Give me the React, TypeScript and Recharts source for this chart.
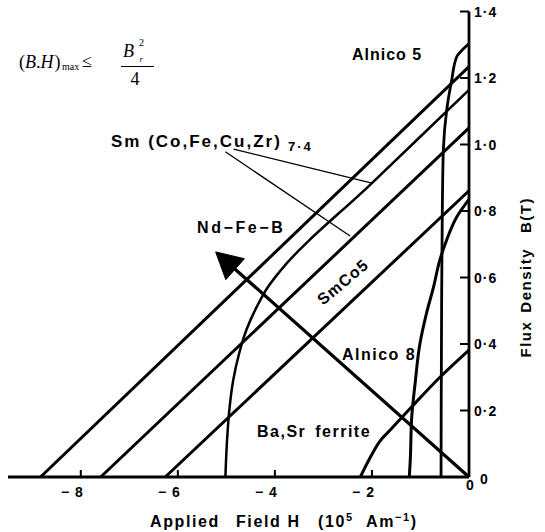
import React from 'react';
import { LineChart, Line, XAxis, YAxis } from 'recharts';

// Applied field H (10^5 A/m) against flux density B (T) for each magnet
const H_TICKS = [-8, -6, -4, -2, 0];
const B_TICKS = [0, 0.2, 0.4, 0.6, 0.8, 1.0, 1.2, 1.4];

const ndFeBH = [-8.83, 0];
const ndFeBB = [0, 1.234];

// Sm(Co,Fe,Cu,Zr)7.4, grade with a knee
const smCoKneeH = [-5.02, -4.99, -4.94, -4.86, -4.74, -4.58, -4.38, -4.15, -3.9, -2.0, 0];
const smCoKneeB = [0, 0.1, 0.2, 0.29, 0.37, 0.445, 0.51, 0.57, 0.618, 0.884, 1.164];

// Sm(Co,Fe,Cu,Zr)7.4, straight grade
const smCoLineH = [-7.59, 0];
const smCoLineB = [0, 1.05];

const smCo5H = [-6.26, 0];
const smCo5B = [0, 0.861];

const alnico5H = [-0.576, -0.565, -0.55, -0.529, -0.459, -0.356, -0.253, -0.12, 0];
const alnico5B = [0, 0.5, 0.8, 0.983, 1.104, 1.194, 1.264, 1.287, 1.304];

const alnico8H = [-1.23, -1.21, -1.18, -1.11, -1.01, -0.88, -0.73, -0.6, -0.46, -0.25, 0];
const alnico8B = [0, 0.051, 0.181, 0.282, 0.402, 0.49, 0.572, 0.653, 0.713, 0.783, 0.835];

const ferriteH = [-2.24, -2.05, -1.85, -1.6, -1.2, -0.6, 0];
const ferriteB = [0, 0.055, 0.105, 0.145, 0.208, 0.3, 0.382];

// improvement arrow and the two pointers from the Sm(Co,Fe,Cu,Zr) label
const arrowH = [0, -5.19];
const arrowB = [0, 0.673];
const leaderUpperH = [-4.85, -2.0];
const leaderUpperB = [0.986, 0.884];
const leaderLowerH = [-5.02, -2.45];
const leaderLowerB = [0.978, 0.725];

const INK = '#000';
const SANS = "'Liberation Sans', Arial, Helvetica, sans-serif";
const SERIF = "'Liberation Serif', 'Times New Roman', serif";

const toPoints = (hs: number[], bs: number[]) => hs.map((h, i) => ({ H: h, B: bs[i] }));

const series = [
  { id: 'ndFeB', data: toPoints(ndFeBH, ndFeBB), type: 'linear', width: 3 },
  { id: 'smCoKnee', data: toPoints(smCoKneeH, smCoKneeB), type: 'monotoneY', width: 2.5 },
  { id: 'smCoLine', data: toPoints(smCoLineH, smCoLineB), type: 'linear', width: 3 },
  { id: 'smCo5', data: toPoints(smCo5H, smCo5B), type: 'linear', width: 3 },
  { id: 'alnico5', data: toPoints(alnico5H, alnico5B), type: 'monotoneY', width: 2.8 },
  { id: 'alnico8', data: toPoints(alnico8H, alnico8B), type: 'monotoneY', width: 3 },
  { id: 'ferrite', data: toPoints(ferriteH, ferriteB), type: 'monotone', width: 3 },
  { id: 'leaderUpper', data: toPoints(leaderUpperH, leaderUpperB), type: 'linear', width: 1.3 },
  { id: 'leaderLower', data: toPoints(leaderLowerH, leaderLowerB), type: 'linear', width: 1.3 },
];

const HTick = (props: any) => {
  const { x, y, payload } = props;
  const v = payload.value;
  if (v === 0) {
    return (
      <text x={x + 1} y={y + 13} textAnchor="middle" fontFamily={SANS} fontWeight="bold" fontSize={14} fill={INK}>
        0
      </text>
    );
  }
  return (
    <g>
      <line x1={x} x2={x} y1={y} y2={y - 7} stroke={INK} strokeWidth={2} />
      <text x={x + 3} y={y + 20} textAnchor="end" fontFamily={SANS} fontWeight="bold" fontSize={14} letterSpacing={1} fill={INK}>
        {`\u2212 ${Math.abs(v)}`}
      </text>
    </g>
  );
};

const BTick = (props: any) => {
  const { x, y, payload } = props;
  const v = payload.value;
  if (v === 0) {
    return (
      <text x={x + 11} y={y + 6.5} fontFamily={SANS} fontWeight="bold" fontSize={14} fill={INK}>
        0
      </text>
    );
  }
  return (
    <g>
      <line x1={x} x2={x - 9} y1={y} y2={y} stroke={INK} strokeWidth={2} />
      <text x={x + 5} y={y + 5} fontFamily={SANS} fontWeight="bold" fontSize={14} letterSpacing={1} fill={INK}>
        {v.toFixed(1).replace('.', '\u00b7')}
      </text>
    </g>
  );
};

// filled arrowhead drawn at the far end of the arrow series
const ArrowHead = (props: any) => {
  const { cx, cy, index, points } = props;
  if (index !== arrowH.length - 1 || cx == null) return <g key={`ah-${index}`} />;
  let dx = (arrowH[1] - arrowH[0]) * 48.5;
  let dy = -(arrowB[1] - arrowB[0]) * 332.5;
  if (points && points.length > 1) {
    const p = points[points.length - 2];
    dx = cx - p.x;
    dy = cy - p.y;
  }
  const len = Math.hypot(dx, dy) || 1;
  const ux = dx / len;
  const uy = dy / len;
  const headLen = 24;
  const half = 14;
  const bx = cx - ux * headLen;
  const by = cy - uy * headLen;
  const pts = `${cx + ux * 2},${cy + uy * 2} ${bx - uy * half},${by + ux * half} ${bx + uy * half},${by - ux * half}`;
  return <polygon key={`ah-${index}`} points={pts} fill={INK} stroke={INK} strokeWidth={1} />;
};

const labelStyle = { fontFamily: SANS, fontWeight: 'bold' as const, fill: INK };

export default function App() {
  return (
    <div style={{ position: 'relative', width: 545, height: 532, background: '#fff' }}>
      <style>{'body{margin:0;background:#fff}'}</style>
      <LineChart width={545} height={532} margin={{ top: 11.5, right: 0, bottom: 0, left: 8 }}>
        <XAxis
          type="number"
          dataKey="H"
          domain={[-9.5, 0]}
          ticks={H_TICKS}
          interval={0}
          height={55}
          tickSize={0}
          tickMargin={0}
          tickLine={false}
          axisLine={{ stroke: INK, strokeWidth: 2.8 }}
          tick={(p: any) => <HTick {...p} />}
        />
        <YAxis
          type="number"
          dataKey="B"
          orientation="right"
          domain={[0, 1.4]}
          ticks={B_TICKS}
          interval={0}
          width={76}
          tickSize={0}
          tickMargin={0}
          tickLine={false}
          axisLine={{ stroke: INK, strokeWidth: 2.8 }}
          tick={(p: any) => <BTick {...p} />}
        />
        {series.map((s) => (
          <Line
            key={s.id}
            data={s.data}
            dataKey="B"
            type={s.type as any}
            stroke={INK}
            strokeWidth={s.width}
            strokeLinejoin="round"
            dot={false}
            activeDot={false}
            isAnimationActive={false}
          />
        ))}
        <Line
          data={toPoints(arrowH, arrowB)}
          dataKey="B"
          type="linear"
          stroke={INK}
          strokeWidth={3.2}
          dot={(p: any) => <ArrowHead {...p} />}
          activeDot={false}
          isAnimationActive={false}
        />
      </LineChart>

      <svg width={545} height={532} style={{ position: 'absolute', left: 0, top: 0, pointerEvents: 'none' }}>
        {/* energy product bound */}
        <g fontFamily={SERIF} fill={INK}>
          <text x={19} y={68} fontSize={18}>
            (<tspan fontStyle="italic">B</tspan>.<tspan fontStyle="italic">H</tspan>
            <tspan dx={1}>)</tspan>
          </text>
          <text x={62} y={70} fontSize={10}>max</text>
          <text x={82} y={67} fontSize={18}>≤</text>
          <text x={123} y={57} fontSize={18} fontStyle="italic">B</text>
          <text x={139} y={46} fontSize={10}>2</text>
          <text x={139.5} y={62} fontSize={9} fontStyle="italic">r</text>
          <line x1={121} x2={154} y1={66.5} y2={66.5} stroke={INK} strokeWidth={1} />
          <text x={135} y={85} fontSize={18} textAnchor="middle">4</text>
        </g>

        <text x={352} y={59.5} fontSize={16} letterSpacing={1} {...labelStyle}>Alnico 5</text>
        <text x={111} y={147} fontSize={17} letterSpacing={2} {...labelStyle}>Sm (Co,Fe,Cu,Zr)</text>
        <text x={288} y={151} fontSize={13} letterSpacing={2} {...labelStyle}>7·4</text>
        <text x={197} y={233} fontSize={16} letterSpacing={2.6} {...labelStyle}>Nd−Fe−B</text>
        <text
          x={343}
          y={282}
          fontSize={16}
          letterSpacing={1.2}
          textAnchor="middle"
          dominantBaseline="central"
          transform="rotate(-40 343 282)"
          {...labelStyle}
        >
          SmCo5
        </text>
        <text x={342} y={359.5} fontSize={16} letterSpacing={1.5} {...labelStyle}>Alnico 8</text>
        <text x={257} y={437} fontSize={16} letterSpacing={1.5} wordSpacing={3} {...labelStyle}>Ba,Sr ferrite</text>

        {/* axis titles */}
        <text y={527} fontSize={16} letterSpacing={1.6} {...labelStyle}>
          <tspan x={150}>Applied</tspan>
          <tspan x={236}>Field H</tspan>
          <tspan x={318}>(10</tspan>
          <tspan dy={-6} fontSize={11}>5</tspan>
          <tspan x={366} dy={6}>Am</tspan>
          <tspan dy={-6} fontSize={11}>−1</tspan>
          <tspan dy={6}>)</tspan>
        </text>
        <text transform="translate(531 357.5) rotate(-90)" fontSize={15} letterSpacing={1.5} {...labelStyle}>
          <tspan x={0} y={0}>Flux</tspan>
          <tspan x={44.8} y={0}>Density</tspan>
          <tspan x={124.5} y={0}>B(T)</tspan>
        </text>
      </svg>
    </div>
  );
}
